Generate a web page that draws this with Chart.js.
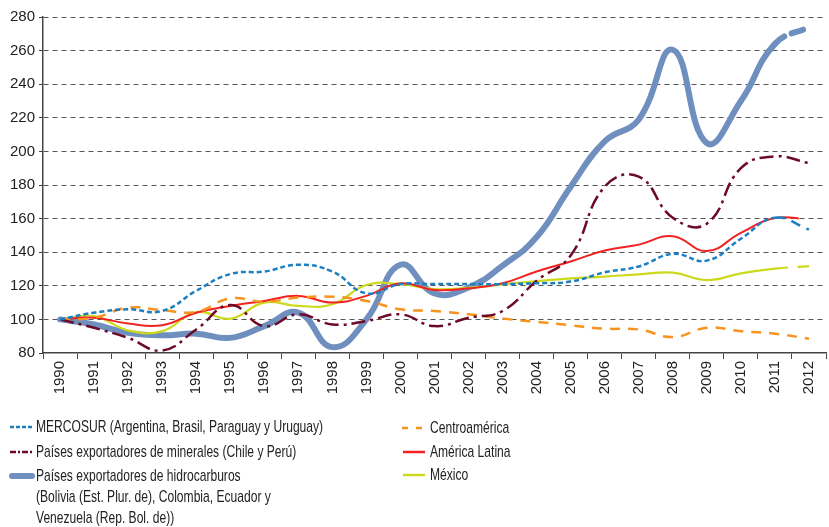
<!DOCTYPE html>
<html>
<head>
<meta charset="utf-8">
<script src="https://cdn.jsdelivr.net/npm/chart.js@4"></script>
<style>
  html, body { margin: 0; padding: 0; background: #fff; }
  #wrap { position: relative; width: 829px; height: 527px; overflow: hidden; }
  #c { position: absolute; left: 0; top: 0; }
  .lg { position: absolute; font-family: 'Liberation Sans', Arial, sans-serif; font-size: 17px; color: #222; line-height: 21px; white-space: nowrap; transform: scaleX(0.71); transform-origin: 0 0; }
  svg { position: absolute; left: 0; top: 0; }
</style>
</head>
<body>
<div id="wrap">
  <canvas id="c" width="829" height="410"></canvas>
  <svg width="829" height="527">
    <line x1="10" y1="427" x2="32" y2="427" stroke="#1b7fc1" stroke-width="2.5" stroke-dasharray="4 2"/>
    <line x1="10" y1="452" x2="32" y2="452" stroke="#6d0a27" stroke-width="2.5" stroke-dasharray="6 2 2 2"/>
    <line x1="12" y1="476" x2="32" y2="476" stroke="#6f8fbf" stroke-width="6" stroke-linecap="round"/>
    <line x1="402" y1="428" x2="424" y2="428" stroke="#f7941d" stroke-width="2.5" stroke-dasharray="6 8"/>
    <line x1="403" y1="452" x2="425" y2="452" stroke="#f22222" stroke-width="2.5"/>
    <line x1="403" y1="475" x2="425" y2="475" stroke="#cdd91c" stroke-width="2.5"/>
  </svg>
  <div class="lg" style="left:36px; top:416px;">MERCOSUR (Argentina, Brasil, Paraguay y Uruguay)</div>
  <div class="lg" style="left:36px; top:441px;">Países exportadores de minerales (Chile y Perú)</div>
  <div class="lg" style="left:36px; top:465px;">Países exportadores de hidrocarburos<br>(Bolivia (Est. Plur. de), Colombia, Ecuador y<br>Venezuela (Rep. Bol. de))</div>
  <div class="lg" style="left:430px; top:417px;">Centroamérica</div>
  <div class="lg" style="left:430px; top:441px;">América Latina</div>
  <div class="lg" style="left:430px; top:464px;">México</div>
</div>
<script>
const years = ['1990','1991','1992','1993','1994','1995','1996','1997','1998','1999','2000','2001','2002','2003','2004','2005','2006','2007','2008','2009','2010','2011','2012'];
const mercosur = [100, 104, 106, 105, 117, 127, 128.5, 132.5, 128.5, 115.5, 121, 121, 121, 121, 121.5, 122.5, 128, 131.5, 139, 135, 148, 160.5, 153.5];
const minerales = [100, 95, 89, 81.5, 94, 108.5, 96, 103, 97, 99, 103, 96, 101, 105, 123, 138, 179, 185, 160.5, 157, 190, 197, 193];
const hidrocarburos = [100, 97, 92, 90.5, 91.5, 89, 96, 104, 83.5, 100, 132.5, 115.5, 119, 132, 149, 179, 206, 219, 260.5, 205, 230, 264, 274];
const centroamerica = [100, 101, 107, 105.5, 104.5, 112.5, 110.5, 113, 113.5, 111, 106, 105, 103, 100.5, 98.5, 96.5, 94.5, 94, 89.5, 95, 93, 91.5, 88.5];
const americaLatina = [100, 101, 97.5, 96.5, 104, 108, 111, 114, 110, 114, 121.5, 117.5, 118.5, 121.5, 128.5, 134.5, 141, 144.5, 149.5, 140.7, 151.5, 160.3, 159.5];
const mexico = [100, 102, 93.5, 93, 104.3, 100.4, 110, 108, 109, 120.5, 121, 118, 118.8, 120.8, 122.8, 124.4, 125.5, 126.8, 127.8, 123.4, 127.4, 130.2, 131.7];
const yTicks = [80, 100, 120, 140, 160, 180, 200, 220, 240, 260, 280];

const lastSeg = (dash, normal) => ({ borderDash: ctx => ctx.p0DataIndex === years.length - 2 ? dash : normal });

const T = 0.45;
new Chart(document.getElementById('c'), {
  type: 'line',
  data: {
    labels: years,
    datasets: [
      { label: 'MERCOSUR', data: mercosur, borderColor: '#1b7fc1', borderWidth: 2.5, borderDash: [5, 3], segment: lastSeg([10, 7], [5, 3]) },
      { label: 'Minerales', data: minerales, borderColor: '#6d0a27', borderWidth: 2.5, borderDash: [14, 5, 3, 5] },
      { label: 'Centroamérica', data: centroamerica, borderColor: '#f7941d', borderWidth: 2.5, borderDash: [10, 8] },
      { label: 'América Latina', data: americaLatina, borderColor: '#f22222', borderWidth: 2, segment: lastSeg([24, 40], []) },
      { label: 'México', data: mexico, borderColor: '#cdd91c', borderWidth: 2.2, segment: lastSeg([13, 10], []) },
      { label: 'Hidrocarburos', data: hidrocarburos, borderColor: '#6f8fbf', borderWidth: 6, borderCapStyle: 'round', segment: lastSeg([12, 8], []) }
    ].map(d => Object.assign({ tension: T, pointRadius: 0, fill: false }, d))
  },
  options: {
    responsive: false,
    devicePixelRatio: 1,
    animation: false,
    layout: { padding: { top: 17, right: 1, left: 0, bottom: 5 } },
    plugins: { legend: { display: false }, tooltip: { enabled: false } },
    scales: {
      x: {
        offset: true,
        grid: { display: true, drawOnChartArea: false, drawTicks: true, tickLength: 6, offset: true, color: '#444', tickColor: '#444' },
        border: { display: true, color: '#444', width: 1.5 },
        ticks: { minRotation: 90, maxRotation: 90, autoSkip: false, padding: 2, color: '#222', font: { family: 'Liberation Sans, Arial, sans-serif', size: 15 } },
        afterFit: s => { s.height = 52; }
      },
      y: {
        min: 80, max: 280,
        afterBuildTicks: s => { s.ticks = yTicks.map(v => ({ value: v })); },
        grid: { color: ctx => (ctx.tick && ctx.tick.value === 80) ? 'rgba(0,0,0,0)' : '#555', tickColor: '#444', tickLength: 4, lineWidth: 1, borderDash: [5, 4] },
        border: { display: true, color: '#444', width: 1.5, dash: [5, 4] },
        ticks: { padding: 4, color: '#222', font: { family: 'Liberation Sans, Arial, sans-serif', size: 15 } },
        afterFit: s => { s.width = 43; }
      }
    }
  }
});
</script>
</body>
</html>
